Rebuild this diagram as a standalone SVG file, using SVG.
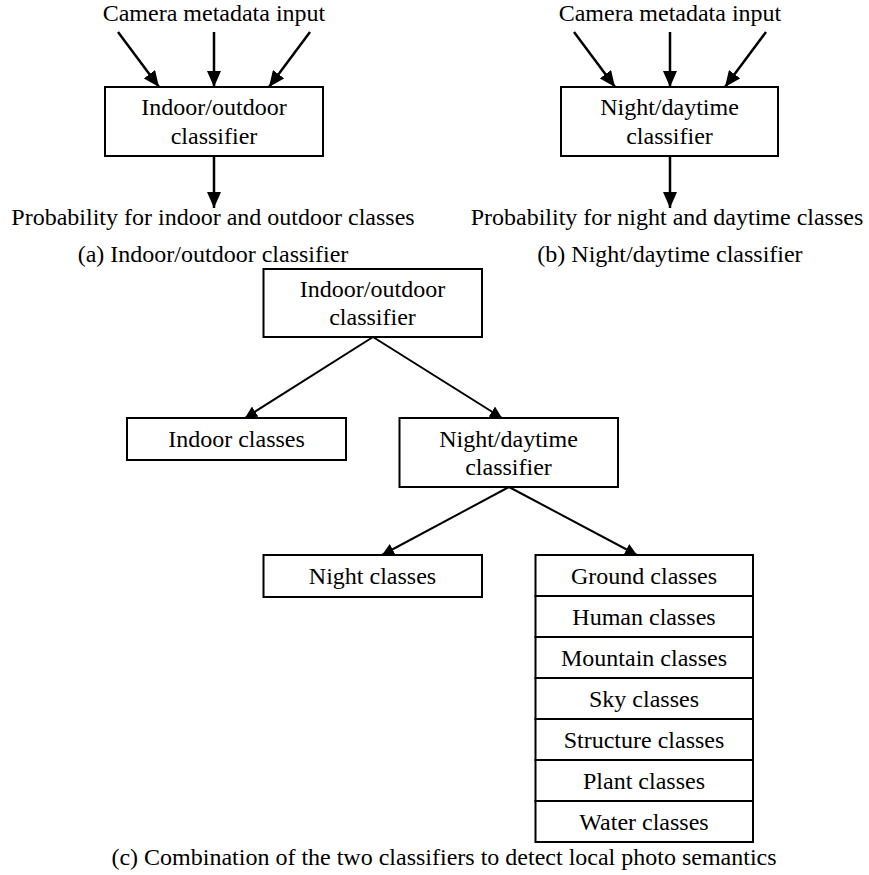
<svg xmlns="http://www.w3.org/2000/svg" width="869" height="875" viewBox="0 0 869 875">
<style>
text { font-family: "Liberation Serif", "Times New Roman", serif; font-size: 24px; fill: #000; text-anchor: middle; }
.box { fill: #fff; stroke: #000; stroke-width: 2; }
.big { stroke: #000; stroke-width: 2.5; fill: none; }
.thin { stroke: #000; stroke-width: 2; fill: none; }
</style>
<defs>
<marker id="ahBig" viewBox="0 0 16 14" refX="16" refY="7" markerWidth="16" markerHeight="14" markerUnits="userSpaceOnUse" orient="auto">
<path d="M0,0 L16,7 L0,14 z" fill="#000"/>
</marker>
<marker id="ahSmall" viewBox="0 0 12 12" refX="12" refY="6" markerWidth="12" markerHeight="12" markerUnits="userSpaceOnUse" orient="auto">
<path d="M0,0 L12,6 L0,12 z" fill="#000"/>
</marker>
</defs>

<g id="connectors">
<line class="big" x1="118" y1="32" x2="159" y2="87" marker-end="url(#ahBig)"/>
<line class="big" x1="214" y1="32" x2="214" y2="87" marker-end="url(#ahBig)"/>
<line class="big" x1="310" y1="32" x2="269" y2="87" marker-end="url(#ahBig)"/>
<line class="big" x1="214" y1="156" x2="214" y2="208" marker-end="url(#ahBig)"/>
<line class="big" x1="574" y1="32" x2="615" y2="87" marker-end="url(#ahBig)"/>
<line class="big" x1="670" y1="32" x2="670" y2="87" marker-end="url(#ahBig)"/>
<line class="big" x1="766" y1="32" x2="725" y2="87" marker-end="url(#ahBig)"/>
<line class="big" x1="670" y1="156" x2="670" y2="208" marker-end="url(#ahBig)"/>
<line class="thin" x1="373" y1="337" x2="245" y2="418" marker-end="url(#ahSmall)"/>
<line class="thin" x1="373" y1="337" x2="502" y2="418" marker-end="url(#ahSmall)"/>
<line class="thin" x1="509" y1="487" x2="382" y2="555" marker-end="url(#ahSmall)"/>
<line class="thin" x1="509" y1="487" x2="637" y2="555" marker-end="url(#ahSmall)"/>
</g>

<g id="a-input"><text x="214" y="21">Camera metadata input</text></g>
<g id="a-classifier">
<rect class="box" x="105" y="87" width="218" height="69"/>
<text x="214" y="115">Indoor/outdoor</text>
<text x="214" y="144">classifier</text>
</g>
<g id="a-output"><text x="213" y="225">Probability for indoor and outdoor classes</text></g>
<g id="a-caption"><text x="213" y="262">(a) Indoor/outdoor classifier</text></g>

<g id="b-input"><text x="670" y="21">Camera metadata input</text></g>
<g id="b-classifier">
<rect class="box" x="561" y="87" width="217" height="69"/>
<text x="669.5" y="115">Night/daytime</text>
<text x="669.5" y="144">classifier</text>
</g>
<g id="b-output"><text x="667" y="225">Probability for night and daytime classes</text></g>
<g id="b-caption"><text x="670" y="262">(b) Night/daytime classifier</text></g>

<g id="c-indoor-outdoor">
<rect class="box" x="263.5" y="269" width="218.5" height="68"/>
<text x="372.5" y="297">Indoor/outdoor</text>
<text x="372.5" y="325">classifier</text>
</g>
<g id="c-indoor-classes">
<rect class="box" x="127" y="418" width="219" height="42"/>
<text x="236.5" y="447">Indoor classes</text>
</g>
<g id="c-night-daytime">
<rect class="box" x="399.5" y="418" width="218.5" height="69"/>
<text x="508.5" y="447">Night/daytime</text>
<text x="508.5" y="475">classifier</text>
</g>
<g id="c-night-classes">
<rect class="box" x="263.5" y="555" width="218.5" height="42"/>
<text x="372.5" y="584">Night classes</text>
</g>
<g id="c-daytime-classes">
<rect class="box" x="535.5" y="555" width="217.5" height="41"/>
<text x="644" y="584">Ground classes</text>
<rect class="box" x="535.5" y="596" width="217.5" height="41"/>
<text x="644" y="625">Human classes</text>
<rect class="box" x="535.5" y="637" width="217.5" height="41"/>
<text x="644" y="666">Mountain classes</text>
<rect class="box" x="535.5" y="678" width="217.5" height="41"/>
<text x="644" y="707">Sky classes</text>
<rect class="box" x="535.5" y="719" width="217.5" height="41"/>
<text x="644" y="748">Structure classes</text>
<rect class="box" x="535.5" y="760" width="217.5" height="41"/>
<text x="644" y="789">Plant classes</text>
<rect class="box" x="535.5" y="801" width="217.5" height="41"/>
<text x="644" y="830">Water classes</text>
</g>
<g id="c-caption"><text x="444" y="865">(c) Combination of the two classifiers to detect local photo semantics</text></g>
</svg>
